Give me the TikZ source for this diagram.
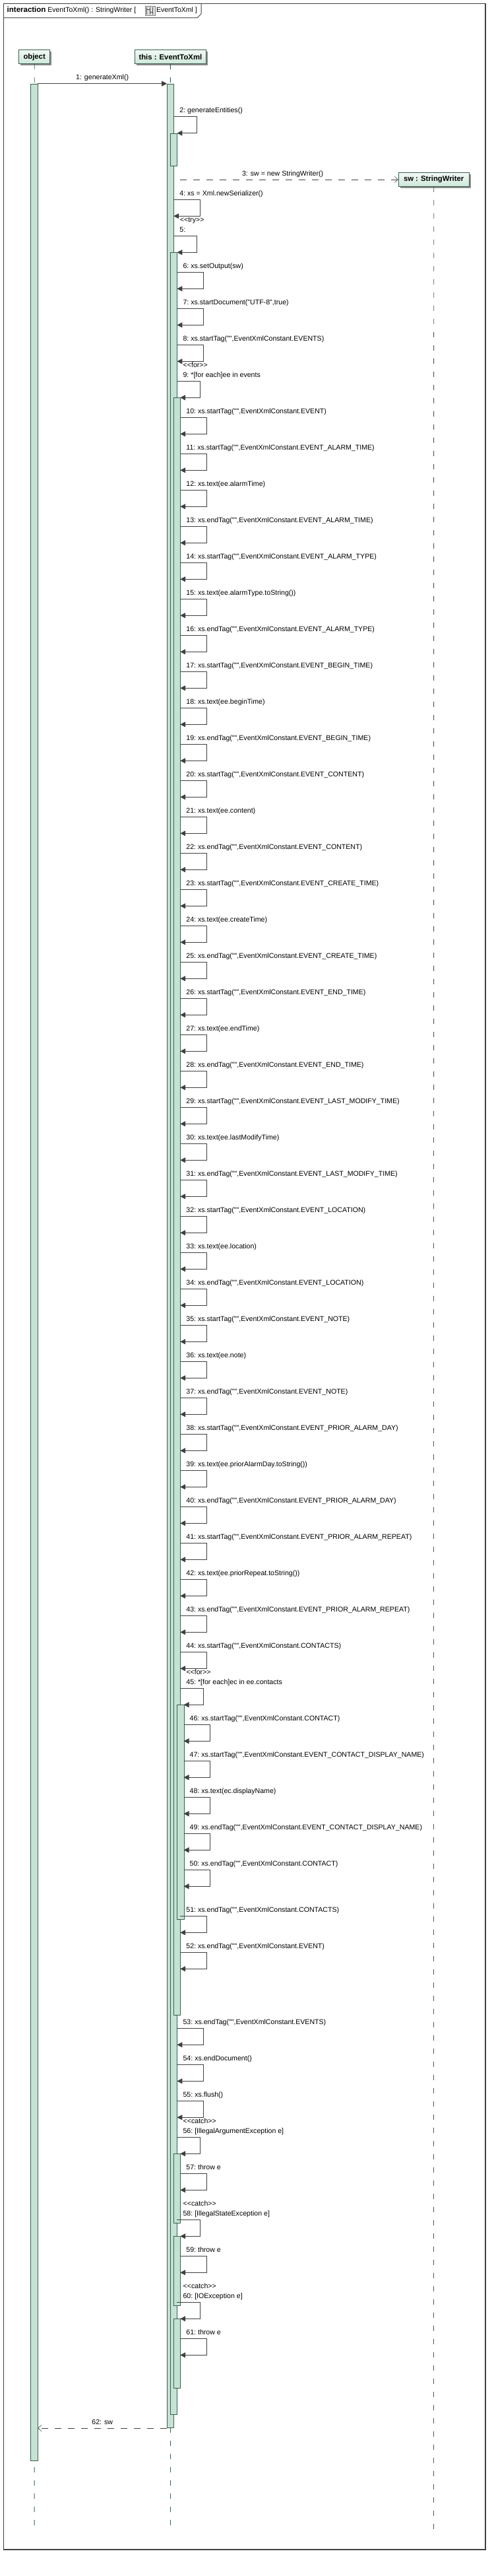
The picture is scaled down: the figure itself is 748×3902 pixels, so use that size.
\documentclass[tikz,border=0pt]{standalone}
\usepackage{fontspec}
\newfontfamily\uml{Liberation Sans}
\usetikzlibrary{arrows.meta,shadows}
\definecolor{actfill}{HTML}{C4E3D3}
\definecolor{actdraw}{HTML}{3B5E52}
\definecolor{linec}{HTML}{404040}
\definecolor{headtop}{HTML}{F2F9F5}
\definecolor{headbot}{HTML}{CDE7D9}
\newcommand{\selfloop}[6]{%
  \pgfmathsetmacro{\ya}{#2}\pgfmathsetmacro{\yb}{#2+25}\pgfmathsetmacro{\yl}{#2-6}\pgfmathsetmacro{\xl}{#3+9}%
  \coordinate (s#1) at (#3,\ya);
  \coordinate (e#1) at (#5,\yb);
  \draw[msg] (s#1) -- (#4,\ya) -- (#4,\yb) -- (e#1);
  \node[lbl] (l#1) at (\xl,\yl) {#1:\ #6};
}
\newcommand{\evmsg}[2]{\pgfmathsetmacro{\evtop}{632.3+(#1-10)*55}\selfloop{#1}{\evtop}{273.2}{313.4}{273.2}{#2}}
\newcommand{\ctmsg}[2]{\pgfmathsetmacro{\evtop}{2612.3+(#1-46)*55}\selfloop{#1}{\evtop}{278.5}{318.7}{278.5}{#2}}
\newcommand{\actbar}[5]{\node[act, minimum width={#4-#2}, minimum height={#5-#3}] (#1) at (#2,#3) {};}
\newcommand{\stereo}[4]{\node[lbl] (#1) at (#3,#4) {<\kern0pt<#2>\kern0pt>};}
\begin{document}
\begin{tikzpicture}[x=1pt,y=-1pt,
  lbl/.style={font=\uml\fontsize{10.6}{13}\selectfont, anchor=base west, inner sep=0pt, text=black},
  clbl/.style={lbl, anchor=base},
  msg/.style={draw=linec, line width=0.9pt, -{Triangle[length=8pt,width=8pt]}, color=linec},
  ret/.style={draw=linec, line width=0.9pt, dash pattern=on 10pt off 10pt, -{Straight Barb[length=5pt,width=9pt,line width=0.6pt]}},
  act/.style={draw=actdraw, fill=actfill, line width=0.8pt, anchor=north west, inner sep=0pt},
  life/.style={draw=actdraw, line width=0.8pt, dash pattern=on 8pt off 12pt},
  head/.style={draw=actdraw, line width=0.9pt, top color=headtop, bottom color=headbot, inner sep=0pt,
    font=\uml\bfseries\fontsize{11.3}{13}\selectfont, minimum height=21pt,
    drop shadow={shadow xshift=2.5pt, shadow yshift=-2.5pt, fill=black!45, opacity=1}},
  ttl/.style={font=\uml\fontsize{10.5}{13}\selectfont, anchor=base west, inner sep=0pt, text=black}
]
\useasboundingbox (0,0) rectangle (748,3902);
\fill[white] (0,0) rectangle (748,3902);
% frame
\draw[linec, line width=1.1pt] (5.3,5.3) rectangle (736,3862);
\draw[linec, line width=1pt] (5.3,27) -- (299,27) -- (305,21) -- (305,5.3);
\node[ttl] (title) at (10.5,19) {{\fontsize{11.5}{13}\selectfont\bfseries interaction} EventToXml() : StringWriter [};
\node[draw=gray, fill=gray!25, line width=0.6pt, minimum width=15pt, minimum height=14pt, inner sep=0pt, anchor=north west] (icon) at (219.5,9) {};
\draw[gray!60!black, line width=0.5pt] (222,11) -- (222,22) (227,11) -- (227,22) (231,11) -- (231,22) (222,14) -- (227,14) (227,18) -- (231,18);
\node[ttl] (title2) at (236.8,19) {EventToXml ]};
% heads
\node[head, minimum width=47pt] (obj) at (52.15,86.2) {object};
\node[head, minimum width=108pt] (this) at (258.35,86.2) {this : EventToXml};
\node[head, minimum width=106.7pt] (sw) at (657.65,272) {sw : StringWriter};
% lifelines
\coordinate (objEnd) at (52.1,3837);
\coordinate (thisEnd) at (258.4,3837);
\coordinate (swEnd) at (657.5,3832);
\draw[life] (obj.south) -- (objEnd);
\draw[life] (this.south) -- (thisEnd);
\draw[life] (sw.south) -- (swEnd);
% activations
\actbar{objA}{46.4}{126.7}{56.5}{3727.3}
\actbar{A1}{253.1}{126.7}{263.2}{3677.3}
\actbar{A2a}{258.4}{201.7}{268.4}{251}
\actbar{A2}{258.4}{382.3}{268.4}{3657.3}
\actbar{A3}{263.2}{602.3}{273.2}{3052.3}
\actbar{A4}{268.4}{2582.3}{278.5}{2907.3}
\actbar{C1}{263.2}{3262.3}{273.2}{3367.3}
\actbar{C2}{263.2}{3387.3}{273.2}{3492.3}
\actbar{C3}{263.2}{3512.3}{273.2}{3617.3}
% message 1
\draw[msg] (objA.north east) -- (A1.north west) node[clbl, pos=0.5, yshift=6pt] (l1) {1: generateXml()};
% message 3
\coordinate (m3s) at (273.2,272);
\draw[ret] (m3s) -- (sw.west) node[clbl, pos=0.47, yshift=6pt] (l3) {3: sw = new StringWriter()};
% message 62
\draw[ret] (A1.south west) -- (objA.east |- A1.south west) node[clbl, pos=0.5, yshift=6pt] (l62) {62: sw};
% self messages
\selfloop{2}{176.7}{263.2}{298.6}{268.4}{generateEntities()}
\selfloop{4}{302.3}{263.2}{303.3}{263.2}{xs = Xml.newSerializer()}
\stereo{st1}{try}{272.7}{336.5}
\selfloop{5}{357.3}{263.2}{298.6}{268.4}{}
\selfloop{6}{412.3}{268.4}{308.6}{268.4}{xs.setOutput(sw)}
\selfloop{7}{467.3}{268.4}{308.6}{268.4}{xs.startDocument("UTF-8",true)}
\selfloop{8}{522.3}{268.4}{308.6}{268.4}{xs.startTag("",EventXmlConstant.EVENTS)}
\stereo{st2}{for}{277.5}{556}
\selfloop{9}{577.3}{268.4}{303.3}{273.2}{*[for each]ee in events}
\evmsg{10}{xs.startTag("",EventXmlConstant.EVENT)}
\evmsg{11}{xs.startTag("",EventXmlConstant.EVENT\_ALARM\_TIME)}
\evmsg{12}{xs.text(ee.alarmTime)}
\evmsg{13}{xs.endTag("",EventXmlConstant.EVENT\_ALARM\_TIME)}
\evmsg{14}{xs.startTag("",EventXmlConstant.EVENT\_ALARM\_TYPE)}
\evmsg{15}{xs.text(ee.alarmType.toString())}
\evmsg{16}{xs.endTag("",EventXmlConstant.EVENT\_ALARM\_TYPE)}
\evmsg{17}{xs.startTag("",EventXmlConstant.EVENT\_BEGIN\_TIME)}
\evmsg{18}{xs.text(ee.beginTime)}
\evmsg{19}{xs.endTag("",EventXmlConstant.EVENT\_BEGIN\_TIME)}
\evmsg{20}{xs.startTag("",EventXmlConstant.EVENT\_CONTENT)}
\evmsg{21}{xs.text(ee.content)}
\evmsg{22}{xs.endTag("",EventXmlConstant.EVENT\_CONTENT)}
\evmsg{23}{xs.startTag("",EventXmlConstant.EVENT\_CREATE\_TIME)}
\evmsg{24}{xs.text(ee.createTime)}
\evmsg{25}{xs.endTag("",EventXmlConstant.EVENT\_CREATE\_TIME)}
\evmsg{26}{xs.startTag("",EventXmlConstant.EVENT\_END\_TIME)}
\evmsg{27}{xs.text(ee.endTime)}
\evmsg{28}{xs.endTag("",EventXmlConstant.EVENT\_END\_TIME)}
\evmsg{29}{xs.startTag("",EventXmlConstant.EVENT\_LAST\_MODIFY\_TIME)}
\evmsg{30}{xs.text(ee.lastModifyTime)}
\evmsg{31}{xs.endTag("",EventXmlConstant.EVENT\_LAST\_MODIFY\_TIME)}
\evmsg{32}{xs.startTag("",EventXmlConstant.EVENT\_LOCATION)}
\evmsg{33}{xs.text(ee.location)}
\evmsg{34}{xs.endTag("",EventXmlConstant.EVENT\_LOCATION)}
\evmsg{35}{xs.startTag("",EventXmlConstant.EVENT\_NOTE)}
\evmsg{36}{xs.text(ee.note)}
\evmsg{37}{xs.endTag("",EventXmlConstant.EVENT\_NOTE)}
\evmsg{38}{xs.startTag("",EventXmlConstant.EVENT\_PRIOR\_ALARM\_DAY)}
\evmsg{39}{xs.text(ee.priorAlarmDay.toString())}
\evmsg{40}{xs.endTag("",EventXmlConstant.EVENT\_PRIOR\_ALARM\_DAY)}
\evmsg{41}{xs.startTag("",EventXmlConstant.EVENT\_PRIOR\_ALARM\_REPEAT)}
\evmsg{42}{xs.text(ee.priorRepeat.toString())}
\evmsg{43}{xs.endTag("",EventXmlConstant.EVENT\_PRIOR\_ALARM\_REPEAT)}
\evmsg{44}{xs.startTag("",EventXmlConstant.CONTACTS)}
\stereo{st3}{for}{282.3}{2536.5}
\selfloop{45}{2557.3}{273.2}{308.6}{278.5}{*[for each]ec in ee.contacts}
\ctmsg{46}{xs.startTag("",EventXmlConstant.CONTACT)}
\ctmsg{47}{xs.startTag("",EventXmlConstant.EVENT\_CONTACT\_DISPLAY\_NAME)}
\ctmsg{48}{xs.text(ec.displayName)}
\ctmsg{49}{xs.endTag("",EventXmlConstant.EVENT\_CONTACT\_DISPLAY\_NAME)}
\ctmsg{50}{xs.endTag("",EventXmlConstant.CONTACT)}
\selfloop{51}{2902.3}{273.2}{313.4}{273.2}{xs.endTag("",EventXmlConstant.CONTACTS)}
\selfloop{52}{2957.3}{273.2}{313.4}{273.2}{xs.endTag("",EventXmlConstant.EVENT)}
\selfloop{53}{3072.3}{268.4}{308.6}{268.4}{xs.endTag("",EventXmlConstant.EVENTS)}
\selfloop{54}{3127.3}{268.4}{308.6}{268.4}{xs.endDocument()}
\selfloop{55}{3182.3}{268.4}{308.6}{268.4}{xs.flush()}
\stereo{st4}{catch}{277.5}{3216.5}
\selfloop{56}{3237.3}{268.4}{303.3}{273.2}{[IllegalArgumentException e]}
\selfloop{57}{3292.3}{273.2}{313.4}{273.2}{throw e}
\stereo{st5}{catch}{277.5}{3341.5}
\selfloop{58}{3362.3}{268.4}{303.3}{273.2}{[IllegalStateException e]}
\selfloop{59}{3417.3}{273.2}{313.4}{273.2}{throw e}
\stereo{st6}{catch}{277.5}{3466.5}
\selfloop{60}{3487.3}{268.4}{303.3}{273.2}{[IOException e]}
\selfloop{61}{3542.3}{273.2}{313.4}{273.2}{throw e}
\end{tikzpicture}
\end{document}
